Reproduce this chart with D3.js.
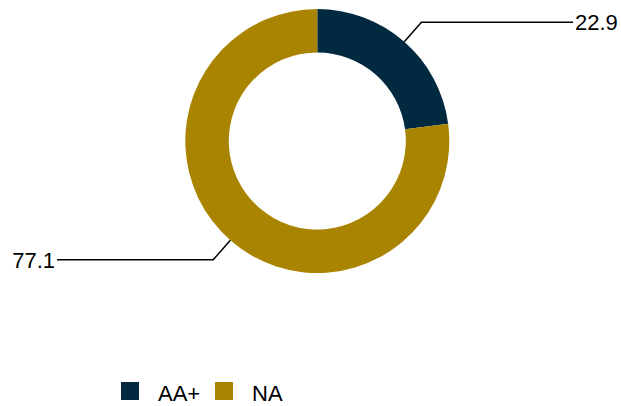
<!DOCTYPE html>
<html>
<head>
<meta charset="utf-8">
<script src="https://cdn.jsdelivr.net/npm/d3@7"></script>
<style>
  html, body { margin: 0; padding: 0; background: #ffffff; }
  svg { display: block; font-family: "Liberation Sans", Arial, sans-serif; }
</style>
</head>
<body>
<svg id="chart" width="621" height="406"></svg>
<script>
// Rating distribution (percent)
const categories = ["AA+", "NA"];
const values = [22.9, 77.1];
const colors = ["#012a41", "#a98400"];

const width = 621, height = 406;
const cx = 317.3, cy = 141;
const outerR = 132, innerR = 88.5;
const elbowR = 158;

const svg = d3.select("#chart");
const color = d3.scaleOrdinal().domain(categories).range(colors);

const pie = d3.pie().sort(null).value(d => d.value);
const data = pie(categories.map((c, i) => ({ cat: c, value: values[i] })));

const arc = d3.arc().innerRadius(innerR).outerRadius(outerR);

const g = svg.append("g").attr("transform", `translate(${cx},${cy})`);

g.selectAll("path.slice")
  .data(data)
  .join("path")
  .attr("class", "slice")
  .attr("d", arc)
  .attr("fill", d => color(d.data.cat));

// Leader lines with horizontal tails and value labels
const labelX = { right: 573 - cx, left: 57 - cx };
data.forEach(d => {
  const mid = (d.startAngle + d.endAngle) / 2;
  const sx = outerR * Math.sin(mid), sy = -outerR * Math.cos(mid);
  const ex = elbowR * Math.sin(mid), ey = -elbowR * Math.cos(mid);
  const right = Math.sin(mid) >= 0;
  const tx = right ? labelX.right : labelX.left;
  g.append("polyline")
    .attr("points", [[sx, sy], [ex, ey], [tx, ey]].map(p => p.join(",")).join(" "))
    .attr("fill", "none")
    .attr("stroke", "#000")
    .attr("stroke-width", 1.5);
  g.append("text")
    .attr("x", right ? tx + 2 : tx - 2)
    .attr("y", ey)
    .attr("dy", "0.35em")
    .attr("text-anchor", right ? "start" : "end")
    .attr("font-size", 22)
    .attr("fill", "#000")
    .text(d3.format(".1f")(d.data.value));
});

// Legend
const legendX = d3.scalePoint().domain(categories).range([121, 215]);
const legend = svg.append("g");
categories.forEach(c => {
  const x = legendX(c);
  legend.append("rect")
    .attr("x", x).attr("y", 382)
    .attr("width", 18).attr("height", 18)
    .attr("fill", color(c));
  legend.append("text")
    .attr("x", x + 37).attr("y", 393)
    .attr("dy", "0.35em")
    .attr("font-size", 22)
    .attr("fill", "#000")
    .text(c);
});
</script>
</body>
</html>
